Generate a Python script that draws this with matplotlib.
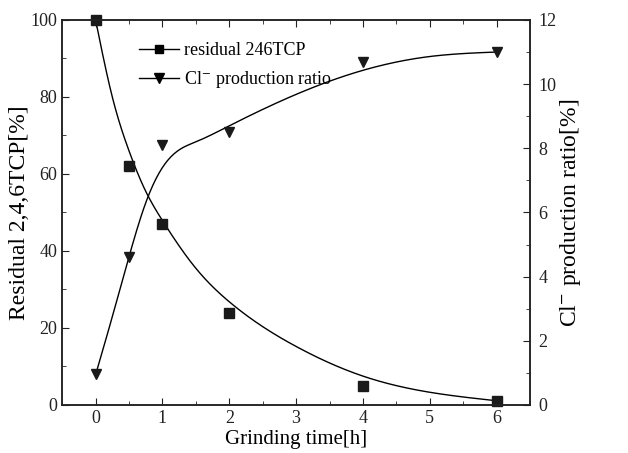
import numpy as np
import matplotlib
matplotlib.use("Agg")
import matplotlib.pyplot as plt
from matplotlib.ticker import MultipleLocator
from matplotlib import font_manager

names = {f.name for f in font_manager.fontManager.ttflist}
serif = [n for n in ['Liberation Serif', 'Nimbus Roman', 'Times New Roman', 'DejaVu Serif'] if n in names]
plt.rcParams['font.family'] = serif
plt.rcParams['mathtext.fontset'] = 'stix'

# measured points
t = [0, 0.5, 1, 2, 4, 6]
tcp = [100, 62, 47, 24, 5, 1]
cl = [0.95, 4.6, 8.1, 8.5, 10.7, 11.0]

# fitted curves
fit_t = [0, 0.25, 0.5, 0.75, 1, 1.5, 2, 3, 4, 5, 6]
fit_tcp = [100, 80, 66, 55.5, 47.9, 35.5, 26.8, 15.2, 7.5, 3.3, 1.1]
fit_cl_t = [0, 0.25, 0.5, 0.75, 1, 1.25, 1.5, 2, 3, 4, 5, 6]
fit_cl = [0.94, 2.75, 4.62, 6.3, 7.4, 7.95, 8.2, 8.7, 9.68, 10.43, 10.86, 11.0]


def spline(x, y, n=400):
    # natural cubic spline through the read points
    x = np.asarray(x, float); y = np.asarray(y, float)
    k = len(x); h = np.diff(x)
    A = np.zeros((k, k)); r = np.zeros(k)
    A[0, 0] = A[-1, -1] = 1
    for i in range(1, k - 1):
        A[i, i-1] = h[i-1]; A[i, i] = 2*(h[i-1] + h[i]); A[i, i+1] = h[i]
        r[i] = 6*((y[i+1]-y[i])/h[i] - (y[i]-y[i-1])/h[i-1])
    M = np.linalg.solve(A, r)
    xs = np.linspace(x[0], x[-1], n)
    i = np.clip(np.searchsorted(x, xs) - 1, 0, k - 2)
    a = x[i+1] - xs; b = xs - x[i]; hi = h[i]
    ys = (M[i]*a**3 + M[i+1]*b**3)/(6*hi) + (y[i]/hi - M[i]*hi/6)*a + (y[i+1]/hi - M[i+1]*hi/6)*b
    return xs, ys


fig = plt.figure(figsize=(6.28, 4.53), dpi=100)
ax = fig.add_axes([0.099, 0.106, 0.745, 0.85])
ax2 = ax.twinx()

cx, cy = spline(fit_t, fit_tcp)
ax.plot(cx, cy, color='black', lw=1)
ax.plot(t, tcp, 's', color='#1a1a1a', ms=6.5, clip_on=False, zorder=5)
l1, = ax.plot([], [], '-s', color='black', lw=1, ms=6, label='residual 246TCP')

dx, dy = spline(fit_cl_t, fit_cl)
ax2.plot(dx, dy, color='black', lw=1)
ax2.plot(t, cl, 'v', color='#1a1a1a', ms=7.5, clip_on=False, zorder=5)
l2, = ax.plot([], [], '-v', color='black', lw=1, ms=7, label='Cl$^{-}$ production ratio')

ax.set_xlim(-0.5, 6.5)
ax.set_ylim(0, 100)
ax2.set_ylim(0, 12)

ax.xaxis.set_major_locator(MultipleLocator(1))
ax.xaxis.set_minor_locator(MultipleLocator(0.5))
ax.yaxis.set_major_locator(MultipleLocator(20))
ax.yaxis.set_minor_locator(MultipleLocator(10))
ax2.yaxis.set_major_locator(MultipleLocator(2))
ax2.yaxis.set_minor_locator(MultipleLocator(1))

ax.tick_params(axis='both', which='both', direction='in', top=True, labelsize=13, colors='#222222')
ax.tick_params(which='major', length=5)
ax.tick_params(which='minor', length=3)
ax2.tick_params(axis='y', which='both', direction='in', labelsize=13, colors='#222222', pad=6)
ax2.tick_params(which='major', length=5)
ax2.tick_params(which='minor', length=3)
for a in (ax, ax2):
    for sp in a.spines.values():
        sp.set_linewidth(1.1)
        sp.set_color('#222222')

ax.set_xlabel('Grinding time[h]', fontsize=15, labelpad=2)
ax.set_ylabel('Residual 2,4,6TCP[%]', fontsize=17, labelpad=0)
ax2.set_ylabel('Cl$^{-}$ production ratio[%]', fontsize=17, labelpad=1)

ax.legend(handles=[l1, l2], loc='upper left', bbox_to_anchor=(0.13, 0.985), frameon=False,
          fontsize=13, handlelength=2.2, handletextpad=0.3, labelspacing=0.55)

fig.savefig('out.png', dpi=100)
